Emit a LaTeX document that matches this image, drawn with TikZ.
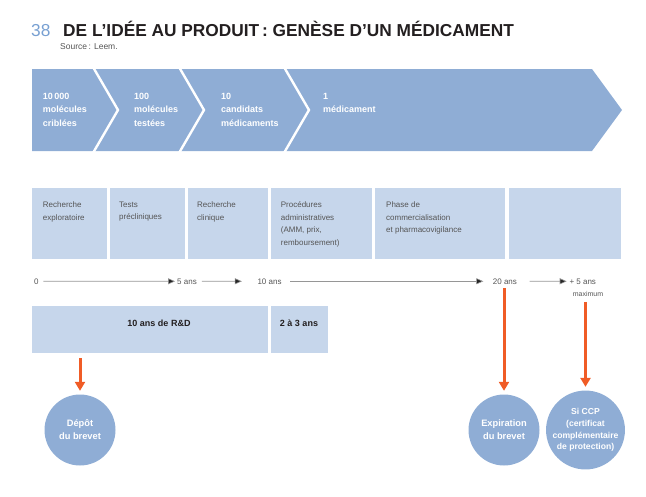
\documentclass[tikz,border=0pt]{standalone}
\usepackage{fontspec}
\setmainfont{Liberation Sans}
\usetikzlibrary{arrows.meta}
\definecolor{chev}{RGB}{143,173,213}
\definecolor{boxc}{RGB}{198,214,235}
\definecolor{orng}{RGB}{240,92,38}
\definecolor{numc}{RGB}{120,160,210}
\definecolor{titc}{RGB}{35,31,32}
\definecolor{txtc}{RGB}{85,85,85}
\definecolor{linec}{RGB}{150,150,150}
\begin{document}
\begin{tikzpicture}[x=1pt,y=-1pt,
  chevtext/.style={anchor=north west, inner sep=0, align=left, text=white, font=\fontsize{9}{13.5}\selectfont\bfseries},
  phasebox/.style={fill=boxc, draw=none, inner sep=0, anchor=north west},
  phasetext/.style={anchor=north west, inner sep=0, align=left, text=txtc, font=\fontsize{8}{12.5}\selectfont},
  tl/.style={anchor=base west, inner sep=0, text=txtc, font=\fontsize{8}{10}\selectfont},
  tline/.style={draw=linec, line width=0.6pt, -{Triangle[length=7pt,width=6pt,fill=black!85]}},
  boldtext/.style={inner sep=0, text=titc, font=\fontsize{9}{11}\selectfont\bfseries},
  circ/.style={circle, fill=chev, draw=none, minimum size=71pt, inner sep=0, align=center, text=white, font=\fontsize{9.3}{13}\selectfont\bfseries},
  oarrow/.style={draw=orng, line width=3pt, -{Triangle[length=9pt,width=10pt]}}
]
\useasboundingbox (0,0) rectangle (646,496);

% title
\node[anchor=base west, inner sep=0, text=numc, font=\fontsize{17.3}{17}\selectfont] (num) at (31,36) {38};
\node[anchor=base west, inner sep=0, text=titc, font=\fontsize{17.3}{17}\selectfont\bfseries] (title) at (63,36) {DE L’IDÉE AU PRODUIT\,: GENÈSE D’UN MÉDICAMENT};
\node[anchor=base west, inner sep=0, text=txtc, font=\fontsize{8.5}{10}\selectfont] (src) at (60,49) {Source\,: Leem.};

% chevron band
\fill[chev] (32,69) -- (592,69) -- (622,110) -- (592,151) -- (32,151) -- cycle;
\foreach \x in {93,179,284}
  \draw[white, line width=2.4pt, line join=miter] (\x,67) -- (\x+25,110) -- (\x,153);
\node[chevtext] (c10000) at (42.7,93) {10\,000\\molécules\\criblées};
\node[chevtext] (c100) at (134,93) {100\\molécules\\testées};
\node[chevtext] (c10) at (221,93) {10\\candidats\\médicaments};
\node[chevtext] (c1) at (323,93) {1\\médicament};

% phase boxes
\node[phasebox, minimum width=75pt, minimum height=71.7pt] (p1) at (31.7,187.3) {};
\node[phasebox, minimum width=75.7pt, minimum height=71.7pt] (p2) at (109.3,187.3) {};
\node[phasebox, minimum width=80pt, minimum height=71.7pt] (p3) at (187.7,187.3) {};
\node[phasebox, minimum width=101pt, minimum height=71.7pt] (p4) at (270.7,187.3) {};
\node[phasebox, minimum width=130.7pt, minimum height=71.7pt] (p5) at (374.3,187.3) {};
\node[phasebox, minimum width=112.7pt, minimum height=71.7pt] (p6) at (508.3,187.3) {};
\node[phasetext] (pt1) at (42.7,201.5) {Recherche\\exploratoire};
\node[phasetext] (pt2) at (119,201.5) {Tests\\précliniques};
\node[phasetext] (pt3) at (197,201.5) {Recherche\\clinique};
\node[phasetext] (pt4) at (280.7,201.5) {Procédures\\administratives\\(AMM, prix,\\remboursement)};
\node[phasetext] (pt5) at (386,201.5) {Phase de\\commercialisation\\et pharmacovigilance};

% timeline
\node[tl] (t0) at (34,284) {0};
\node[tl] (t5) at (177,284) {5 ans};
\node[tl] (t10) at (257.3,284) {10 ans};
\node[tl] (t20) at (492.7,284) {20 ans};
\node[tl] (t25) at (569.3,284) {+ 5 ans};
\node[anchor=base, inner sep=0, text=txtc, font=\fontsize{7}{9}\selectfont] (mx) at (588,296.5) {maximum};
\draw[tline, shorten <=4.5pt, shorten >=2pt] (t0) -- (t5);
\draw[tline, shorten <=5pt, shorten >=15.5pt] (t5) -- (t10);
\draw[tline, shorten <=8.5pt, shorten >=9.4pt] (t10) -- (t20);
\draw[tline, shorten <=12.5pt, shorten >=2.6pt] (t20) -- (t25);

% R&D boxes
\node[phasebox, minimum width=236pt, minimum height=47pt] (rd) at (31.7,305.7) {};
\node[phasebox, minimum width=56.6pt, minimum height=47pt] (ad) at (270.7,305.7) {};
\node[boldtext] (rdt) at (159,323) {10 ans de R\&D};
\node[boldtext] (adt) at (299,323) {2 à 3 ans};

% circles
\node[circ] (dep) at (80,430) {Dépôt\\du brevet};
\node[circ] (exp) at (504,430) {Expiration\\du brevet};
\node[circ, font=\fontsize{8.6}{11.8}\selectfont\bfseries] (ccp) at (585.5,430) {Si CCP\\(certificat\\complémentaire\\de protection)};

% orange arrows
\draw[oarrow, shorten <=5.3pt, shorten >=3.5pt] (rd.south -| dep.north) -- (dep.north);
\draw[oarrow, shorten <=4pt, shorten >=3.5pt] (t20.base -| exp.north) -- (exp.north);
\draw[oarrow, shorten <=5pt, shorten >=3.5pt] (mx.south -| ccp.north) -- (ccp.north);
\end{tikzpicture}
\end{document}
